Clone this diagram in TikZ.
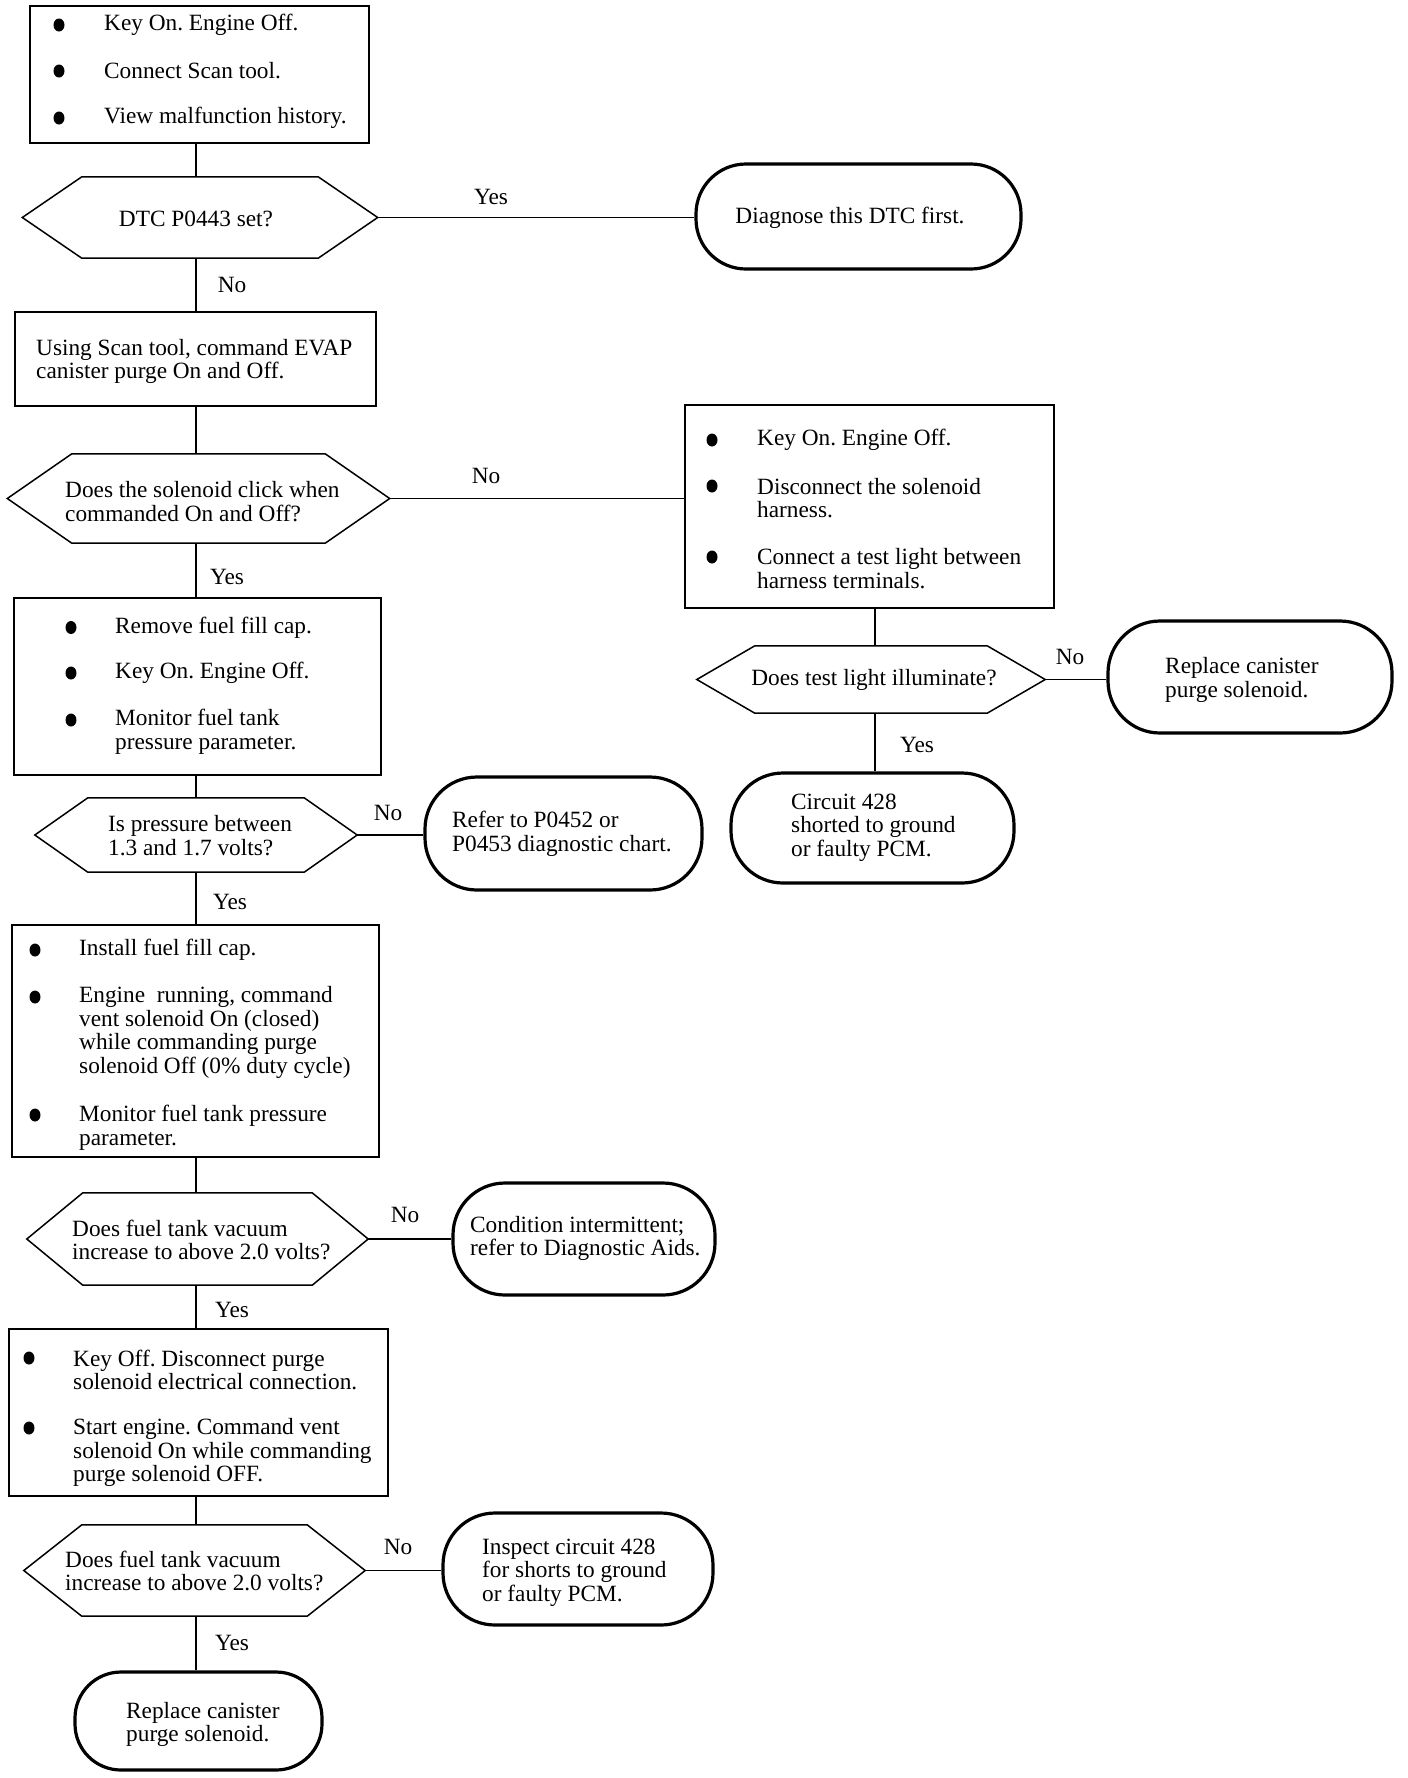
\documentclass[tikz,border=0pt]{standalone}
\usepackage{fontspec}
\setmainfont{Liberation Serif}
\frenchspacing
\newcommand\hexdraw[2]{%
  \draw[hexline] (#1.north west) -- (#1.north east) -- ([xshift=#2pt]#1.east) -- (#1.south east) -- (#1.south west) -- ([xshift=-#2pt]#1.west) -- cycle;
  \coordinate (#1-l) at ([xshift=-#2pt]#1.west);
  \coordinate (#1-r) at ([xshift=#2pt]#1.east);}
\begin{document}
\frenchspacing
\begin{tikzpicture}[x=1pt,y=-1pt,
  fnt/.style={font=\fontsize{23.3}{23.7}\selectfont\frenchspacing},
  box/.style={draw, line width=1.5pt, inner sep=0},
  hexbox/.style={inner sep=0},
  hexline/.style={line width=1.5pt, line join=miter},
  term/.style={draw, line width=3.2pt, inner sep=0},
  txt/.style={fnt, anchor=west, align=left, inner sep=0},
  ctxt/.style={fnt, anchor=center, align=center, inner sep=0},
  lbl/.style={fnt, inner sep=0},
  conn/.style={line width=1.4pt},
  bul/.style={fill=black}]
\useasboundingbox (0,0) rectangle (1408,1778);
\coordinate (sp) at (196,0);
\coordinate (sp2) at (875,0);

% ---------- Box 1
\node[box, minimum width=339, minimum height=137] (b1) at (199.5,74.5) {};
\fill[bul] (59,25) circle[x radius=5.5, y radius=6.5];
\fill[bul] (59,71) circle[x radius=5.5, y radius=6.5];
\fill[bul] (59,118) circle[x radius=5.5, y radius=6.5];
\node[txt] (b1a) at (104,25) {Key On. Engine Off.};
\node[txt] (b1b) at (104,71) {Connect Scan tool.};
\node[txt] (b1c) at (104,118) {View malfunction history.};

% ---------- Decision 1
\node[hexbox, minimum width=236, minimum height=81] (d1) at (200,217.5) {};
\hexdraw{d1}{59.5}
\node[ctxt] (d1t) at (196,219) {DTC P0443 set?};

% ---------- Terminal 1
\node[term, minimum width=325, minimum height=105, rounded corners=50] (t1) at (858.5,216.5) {};
\node[ctxt] (t1t) at (850,218) {Diagnose this DTC first.};

% ---------- Box 2
\node[box, minimum width=361, minimum height=94] (b2) at (195.5,359) {};
\node[txt] (b2t) at (36,361.5) {Using Scan tool, command EVAP\\canister purge On and Off.};

% ---------- Decision 2
\node[hexbox, minimum width=253, minimum height=89] (d2) at (198.5,498.5) {};
\hexdraw{d2}{64.5}
\node[txt] (d2t) at (65,501.5) {Does the solenoid click when\\commanded On and Off?};

% ---------- Box 3
\node[box, minimum width=369, minimum height=203] (b3) at (869.5,506.5) {};
\fill[bul] (712,440) circle[x radius=5.5, y radius=6.5];
\fill[bul] (712,486) circle[x radius=5.5, y radius=6.5];
\fill[bul] (712,557) circle[x radius=5.5, y radius=6.5];
\node[txt] (b3a) at (757,440) {Key On. Engine Off.};
\node[txt] (b3b) at (757,498) {Disconnect the solenoid\\harness.};
\node[txt] (b3c) at (757,568.5) {Connect a test light between\\harness terminals.};

% ---------- Decision 4
\node[hexbox, minimum width=232, minimum height=67] (d4) at (871,679.5) {};
\hexdraw{d4}{58}
\node[ctxt] (d4t) at (874,680) {Does test light illuminate?};

% ---------- Terminal 2
\node[term, minimum width=284, minimum height=112, rounded corners=52] (t2) at (1250,677) {};
\node[txt] (t2t) at (1165,680) {Replace canister\\purge solenoid.};

% ---------- Terminal 3
\node[term, minimum width=283, minimum height=110, rounded corners=52] (t3) at (872.5,828) {};
\node[txt] (t3t) at (791,827.5) {Circuit 428\\shorted to ground\\or faulty PCM.};

% ---------- Box 4
\node[box, minimum width=367, minimum height=177] (b4) at (197.5,686.5) {};
\fill[bul] (71,627.5) circle[x radius=5.5, y radius=6.5];
\fill[bul] (71,673) circle[x radius=5.5, y radius=6.5];
\fill[bul] (71,720) circle[x radius=5.5, y radius=6.5];
\node[txt] (b4a) at (115,627.5) {Remove fuel fill cap.};
\node[txt] (b4b) at (115,673) {Key On. Engine Off.};
\node[txt] (b4c) at (115,732) {Monitor fuel tank\\pressure parameter.};

% ---------- Decision 3
\node[hexbox, minimum width=216, minimum height=74] (d3) at (196,835) {};
\hexdraw{d3}{53}
\node[txt] (d3t) at (108,835.5) {Is pressure between\\1.3 and 1.7 volts?};

% ---------- Terminal 4
\node[term, minimum width=277, minimum height=113, rounded corners=52] (t4) at (563.5,833.5) {};
\node[txt] (t4t) at (452,834) {Refer to P0452 or\\P0453 diagnostic chart.};

% ---------- Box 5
\node[box, minimum width=367, minimum height=232] (b5) at (195.5,1041) {};
\fill[bul] (35,950) circle[x radius=5.5, y radius=6.5];
\fill[bul] (35,997) circle[x radius=5.5, y radius=6.5];
\fill[bul] (35,1115) circle[x radius=5.5, y radius=6.5];
\node[txt] (b5a) at (79,950) {Install fuel fill cap.};
\node[txt] (b5b) at (79,1032.5) {Engine\ \ running, command\\vent solenoid On (closed)\\while commanding purge\\solenoid Off (0\% duty cycle)};
\node[txt] (b5c) at (79,1127.5) {Monitor fuel tank pressure\\parameter.};

% ---------- Decision 5
\node[hexbox, minimum width=229, minimum height=92] (d5) at (197.5,1239) {};
\hexdraw{d5}{56}
\node[txt] (d5t) at (72,1240) {Does fuel tank vacuum\\increase to above 2.0 volts?};

% ---------- Terminal 5
\node[term, minimum width=262, minimum height=112, rounded corners=52] (t5) at (584,1239) {};
\node[txt] (t5t) at (470,1238.5) {Condition intermittent;\\refer to Diagnostic Aids.};

% ---------- Box 6
\node[box, minimum width=379, minimum height=167] (b6) at (198.5,1412.5) {};
\fill[bul] (29,1358) circle[x radius=5.5, y radius=6.5];
\fill[bul] (29,1428) circle[x radius=5.5, y radius=6.5];
\node[txt] (b6a) at (73,1370) {Key Off. Disconnect purge\\solenoid electrical connection.};
\node[txt] (b6b) at (73,1452.5) {Start engine. Command vent\\solenoid On while commanding\\purge solenoid OFF.};

% ---------- Decision 6
\node[hexbox, minimum width=225, minimum height=91] (d6) at (194.5,1570.5) {};
\hexdraw{d6}{58}
\node[txt] (d6t) at (65,1571) {Does fuel tank vacuum\\increase to above 2.0 volts?};

% ---------- Terminal 6
\node[term, minimum width=270, minimum height=112, rounded corners=52] (t6) at (578,1569) {};
\node[txt] (t6t) at (482,1572.5) {Inspect circuit 428\\for shorts to ground\\or faulty PCM.};

% ---------- Terminal 7
\node[term, minimum width=247, minimum height=98, rounded corners=46] (t7) at (198.5,1721) {};
\node[txt] (t7t) at (126,1724.5) {Replace canister\\purge solenoid.};

% ---------- Connectors
\draw[conn] (b1.south -| sp) -- (d1.north -| sp);
\draw[conn] (d1-r) -- (t1.west |- d1-r);
\draw[conn] (d1.south -| sp) -- (b2.north -| sp);
\draw[conn] (b2.south -| sp) -- (d2.north -| sp);
\draw[conn] (d2-r) -- (b3.west |- d2-r);
\draw[conn] (b3.south -| sp2) -- (d4.north -| sp2);
\draw[conn] (d4-r) -- (t2.west |- d4-r);
\draw[conn] (d4.south -| sp2) -- (t3.north -| sp2);
\draw[conn] (d2.south -| sp) -- (b4.north -| sp);
\draw[conn] (b4.south -| sp) -- (d3.north -| sp);
\draw[conn] (d3-r) -- (t4.west |- d3-r);
\draw[conn] (d3.south -| sp) -- (b5.north -| sp);
\draw[conn] (b5.south -| sp) -- (d5.north -| sp);
\draw[conn] (d5-r) -- (t5.west |- d5-r);
\draw[conn] (d5.south -| sp) -- (b6.north -| sp);
\draw[conn] (b6.south -| sp) -- (d6.north -| sp);
\draw[conn] (d6-r) -- (t6.west |- d6-r);
\draw[conn] (d6.south -| sp) -- (t7.north -| sp);

% ---------- Labels
\node[lbl] (l1) at (491,197) {Yes};
\node[lbl] (l2) at (232,285) {No};
\node[lbl] (l3) at (486,476) {No};
\node[lbl] (l4) at (227,577) {Yes};
\node[lbl] (l5) at (1070,657) {No};
\node[lbl] (l6) at (917,745) {Yes};
\node[lbl] (l7) at (388,813) {No};
\node[lbl] (l8) at (230,902) {Yes};
\node[lbl] (l9) at (405,1215) {No};
\node[lbl] (l10) at (232,1310) {Yes};
\node[lbl] (l11) at (398,1547) {No};
\node[lbl] (l12) at (232,1643) {Yes};
\end{tikzpicture}
\end{document}
